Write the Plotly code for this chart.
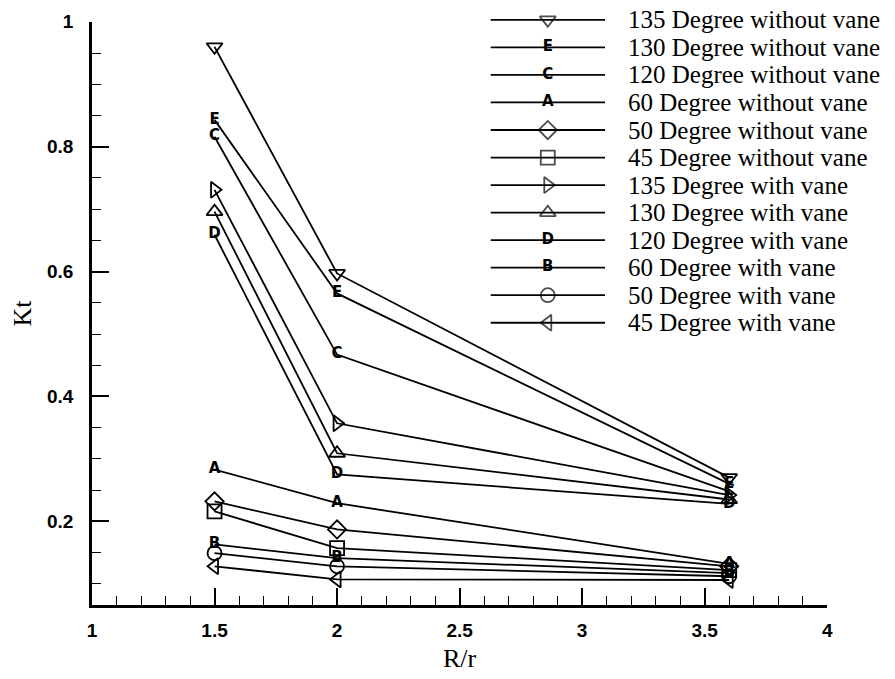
import plotly.graph_objects as go

# Radius ratio R/r at which Kt was evaluated
r_ratio = [1.5, 2.0, 3.6]

# Kt values per bend angle, without guide vane
kt_135_without = [0.960, 0.597, 0.270]
kt_130_without = [0.843, 0.565, 0.260]
kt_120_without = [0.816, 0.467, 0.248]
kt_60_without = [0.283, 0.229, 0.132]
kt_50_without = [0.232, 0.187, 0.128]
kt_45_without = [0.216, 0.157, 0.122]

# Kt values per bend angle, with guide vane
kt_135_with = [0.731, 0.357, 0.242]
kt_130_with = [0.696, 0.309, 0.235]
kt_120_with = [0.659, 0.275, 0.228]
kt_60_with = [0.163, 0.141, 0.117]
kt_50_with = [0.149, 0.128, 0.112]
kt_45_with = [0.128, 0.107, 0.106]

series_names = [
    "135 Degree without vane", "130 Degree without vane", "120 Degree without vane",
    "60 Degree without vane", "50 Degree without vane", "45 Degree without vane",
    "135 Degree with vane", "130 Degree with vane", "120 Degree with vane",
    "60 Degree with vane", "50 Degree with vane", "45 Degree with vane",
]
series_values = [
    kt_135_without, kt_130_without, kt_120_without,
    kt_60_without, kt_50_without, kt_45_without,
    kt_135_with, kt_130_with, kt_120_with,
    kt_60_with, kt_50_with, kt_45_with,
]
# (kind, glyph): open marker symbol or a letter drawn on the line
series_glyphs = [
    ("sym", "triangle-down-open"), ("txt", "E"), ("txt", "C"),
    ("txt", "A"), ("sym", "diamond-open"), ("sym", "square-open"),
    ("sym", "triangle-right-open"), ("sym", "triangle-up-open"), ("txt", "D"),
    ("txt", "B"), ("sym", "circle-open"), ("sym", "triangle-left-open"),
]

LINE_W = 1.8
SYM_SIZE = 14
LETTER_FONT = dict(family="DejaVu Sans", size=15, color="black", weight="bold")
SERIF = "Liberation Serif, Times New Roman, serif"
SANS = "Liberation Sans, Arial, sans-serif"

fig = go.Figure()


def add_series(x, y, kind, glyph, xaxis, yaxis, glyph_mask=None):
    if kind == "sym":
        sizes = SYM_SIZE if glyph_mask is None else [SYM_SIZE if m else 0 for m in glyph_mask]
        fig.add_trace(go.Scatter(
            x=x, y=y, mode="lines+markers", xaxis=xaxis, yaxis=yaxis,
            line=dict(color="black", width=LINE_W),
            marker=dict(symbol=glyph, size=sizes, color="black",
                        line=dict(color="black", width=1.8)),
            showlegend=False, hoverinfo="skip"))
    else:
        texts = [glyph] * len(x) if glyph_mask is None else [glyph if m else "" for m in glyph_mask]
        fig.add_trace(go.Scatter(
            x=x, y=y, mode="lines+text", xaxis=xaxis, yaxis=yaxis,
            line=dict(color="black", width=LINE_W),
            text=texts, textposition="middle center", textfont=LETTER_FONT,
            showlegend=False, hoverinfo="skip"))


# Page geometry (pixels)
W, H = 895, 679
ML, MR, MT, MB = 92, 5, 2, 74
pw, ph = W - ML - MR, H - MT - MB
plot_right, plot_top = 830, 12
key_left, key_right, key_text = 492, 607, 628
row_first, row_last = 10, 318

# Data curves
for vals, (kind, glyph) in zip(series_values, series_glyphs):
    add_series(r_ratio, vals, kind, glyph, "x", "y")

# Key: one short line per series with its glyph in the middle
for i, (name, (kind, glyph)) in enumerate(zip(series_names, series_glyphs)):
    add_series([0, 0.5, 1], [i, i, i], kind, glyph, "x2", "y2",
               glyph_mask=[False, True, False])
    fig.add_annotation(x=(key_text - ML) / pw, y=i, xref="paper", yref="y2",
                       text=name, showarrow=False, xanchor="left", yanchor="middle",
                       font=dict(family=SERIF, size=25, color="black"))

x_dom_end = (plot_right - ML) / pw
y_dom_end = (H - MB - plot_top) / ph
row_step = (row_last - row_first) / (len(series_names) - 1)
key_top_px, key_bot_px = MT, row_last + row_step / 2
y2_dom = [(H - MB - key_bot_px) / ph, (H - MB - key_top_px) / ph]
y2_top = -(row_first - key_top_px) / row_step
y2_bot = (len(series_names) - 1) + 0.5

fig.update_layout(
    width=W, height=H,
    margin=dict(l=ML, r=MR, t=MT, b=MB),
    paper_bgcolor="white", plot_bgcolor="white",
    showlegend=False,
    xaxis=dict(
        domain=[0, x_dom_end], range=[1, 4], dtick=0.5, tick0=1,
        showgrid=False, zeroline=False,
        showline=True, linecolor="black", linewidth=2.5,
        ticks="inside", ticklen=17, tickwidth=2, tickcolor="black",
        minor=dict(dtick=0.1, ticks="inside", ticklen=9, tickwidth=1.3,
                   tickcolor="black", showgrid=False),
        tickfont=dict(family=SANS, size=19, color="black", weight="bold"),
        ticklabelstandoff=6,
        title=dict(text="R/r", font=dict(family=SERIF, size=26, color="black"),
                   standoff=10),
    ),
    yaxis=dict(
        domain=[0, y_dom_end], range=[0.066, 1.0], dtick=0.2, tick0=0,
        showgrid=False, zeroline=False,
        showline=True, linecolor="black", linewidth=2.5,
        ticks="inside", ticklen=17, tickwidth=2, tickcolor="black",
        minor=dict(dtick=0.05, ticks="inside", ticklen=9, tickwidth=1.3,
                   tickcolor="black", showgrid=False),
        tickfont=dict(family=SANS, size=19, color="black", weight="bold"),
        ticklabelstandoff=12,
        title=dict(text="Kt", font=dict(family=SERIF, size=26, color="black"),
                   standoff=8),
    ),
    xaxis2=dict(
        domain=[(key_left - ML) / pw, (key_right - ML) / pw], range=[0, 1],
        anchor="y2", visible=False, fixedrange=True,
    ),
    yaxis2=dict(
        domain=y2_dom, range=[y2_bot, y2_top],
        anchor="x2", visible=False, fixedrange=True,
    ),
)

fig.write_html("out.html")
